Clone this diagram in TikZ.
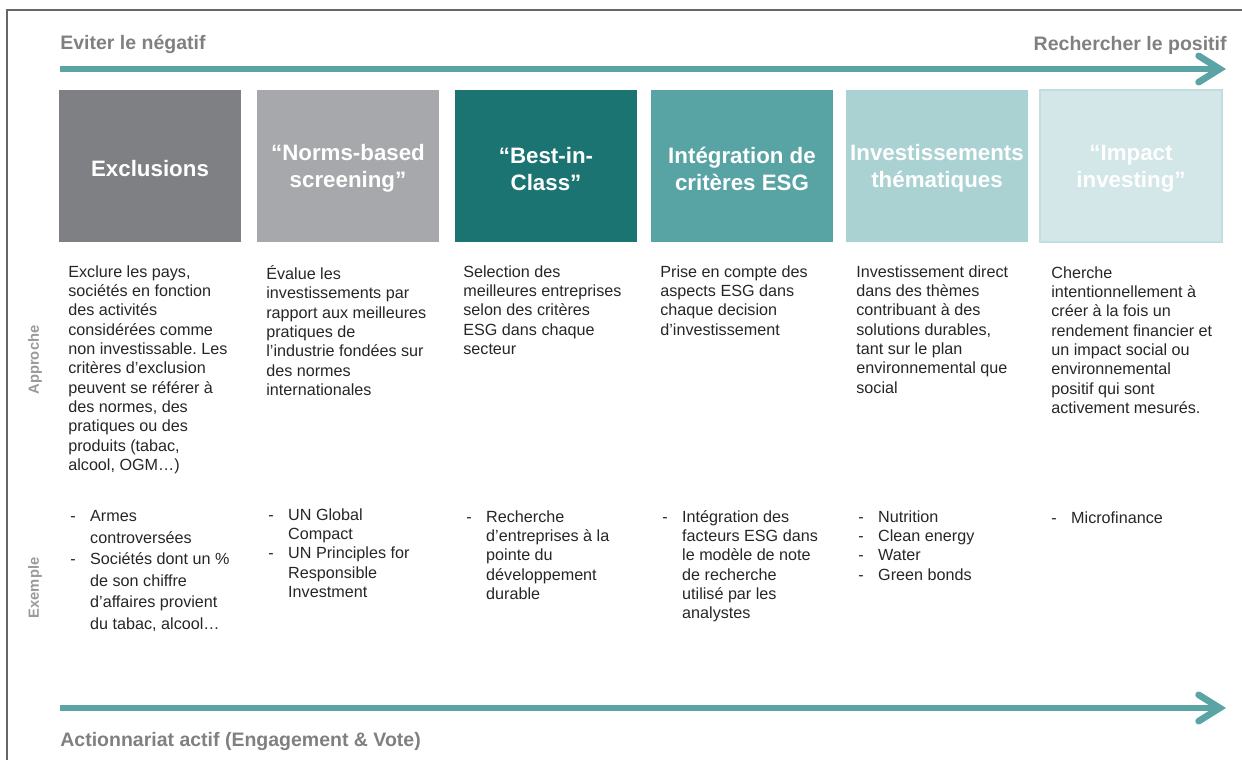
\documentclass[tikz,border=0pt]{standalone}
\usepackage{fontspec}
\setmainfont{Liberation Sans}
\usepackage{xcolor}
\usetikzlibrary{arrows.meta,positioning}

\definecolor{exclgray}{HTML}{7F8084}
\definecolor{normgray}{HTML}{A7A8AB}
\definecolor{bestteal}{HTML}{1B7471}
\definecolor{integteal}{HTML}{58A3A4}
\definecolor{themteal}{HTML}{AAD2D3}
\definecolor{impactteal}{HTML}{D3E6E8}
\definecolor{impactedge}{HTML}{C3DEE0}
\definecolor{arrowteal}{HTML}{5BA4A6}
\definecolor{headgray}{HTML}{808080}
\definecolor{sidegray}{HTML}{9A9A9A}
\definecolor{bodytext}{HTML}{262626}

\newcommand{\dashitem}{\makebox[11.3pt][l]{-}}
\newcommand{\contline}{\hspace*{11.3pt}}
\frenchspacing

\begin{document}
\begin{tikzpicture}[x=0.02cm,y=-0.02cm,
  box/.style={minimum width=3.64cm,minimum height=3.04cm,inner sep=0pt},
  title/.style={inner sep=0pt,text=white,align=center,
    font=\fontsize{12.7}{15.3}\selectfont\bfseries},
  approach/.style={anchor=north west,inner sep=0pt,align=left,text=bodytext,
    font=\fontsize{9.2}{11}\selectfont},
  sample/.style={approach},
  head/.style={inner sep=0pt,text=headgray,font=\fontsize{11.1}{13}\selectfont\bfseries},
  side/.style={inner sep=0pt,rotate=90,text=sidegray,font=\fontsize{8.4}{9}\selectfont\bfseries},
  flow/.style={arrowteal,line width=3.8pt,
    -{Straight Barb[length=12pt,width=15pt,line cap=round]}}]
\useasboundingbox (0,0) rectangle (1242,760);

% Frame
\draw[gray!80!black,line width=0.6pt] (7,760) -- (7,10) -- (1242,10);

% Top arrow
\node[head,anchor=west] (negatif) at (60,44) {Eviter le négatif};
\node[head,anchor=east] (positif) at (1227,45) {Rechercher le positif};
\coordinate (topstart) at (60,69);
\coordinate (topend) at (1226,69);
\draw[flow] (topstart) -- (topend);

% Approaches
\node[box,fill=exclgray] (excl) at (150,166) {};
\node[box,fill=normgray] (norms) at (348,166) {};
\node[box,fill=bestteal] (best) at (546,166) {};
\node[box,fill=integteal] (integ) at (742,166) {};
\node[box,fill=themteal] (them) at (937,166) {};
\node[box,fill=impactteal,draw=impactedge,line width=0.8pt] (impact) at (1131,166) {};

\node[title] at ([yshift=-1.5pt]excl.center) {Exclusions};
\node[title] at ([yshift=-1.5pt]norms.center) {“Norms-based\\screening”};
\node[title] at ([yshift=-1.5pt]best.center) {“Best-in-\\Class”};
\node[title] at ([yshift=-1.5pt]integ.center) {Intégration de\\critères ESG};
\node[title] at ([yshift=-1.5pt]them.center) {Investissements\\thématiques};
\node[title] at ([yshift=-1.5pt]impact.center) {“Impact\\investing”};

% Row labels
\node[side] (approche) at (35,360) {Approche};
\node[side] (exemple) at (35,588) {Exemple};

% Approche texts
\node[approach] (exclappr) at (68,265) {Exclure les pays,\\sociétés en fonction\\des activités\\considérées comme\\non investissable. Les\\critères d'exclusion\\peuvent se référer à\\des normes, des\\pratiques ou des\\produits (tabac,\\alcool, OGM…)};
\node[approach] (normsappr) at (266,265) {Évalue les\\investissements par\\rapport aux meilleures\\pratiques de\\l’industrie fondées sur\\des normes\\internationales};
\node[approach] (bestappr) at (463,265) {Selection des\\meilleures entreprises\\selon des critères\\ESG dans chaque\\secteur};
\node[approach] (integappr) at (660,265) {Prise en compte des\\aspects ESG dans\\chaque decision\\d’investissement};
\node[approach] (themappr) at (856,265) {Investissement direct\\dans des thèmes\\contribuant à des\\solutions durables,\\tant sur le plan\\environnemental que\\social};
\node[approach] (impactappr) at (1051,266) {Cherche\\intentionnellement à\\créer à la fois un\\rendement financier et\\un impact social ou\\environnemental\\positif qui sont\\activement mesurés.};

% Exemple texts
\node[sample,font=\fontsize{9.2}{12.3}\selectfont] (exclex) at (70,510) {\dashitem Armes\\\contline controversées\\\dashitem Sociétés dont un \%\\\contline de son chiffre\\\contline d’affaires provient\\\contline du tabac, alcool…};
\node[sample] (normsex) at (268,508) {\dashitem UN Global\\\contline Compact\\\dashitem UN Principles for\\\contline Responsible\\\contline Investment};
\node[sample] (bestex) at (466,510) {\dashitem Recherche\\\contline d’entreprises à la\\\contline pointe du\\\contline développement\\\contline durable};
\node[sample] (integex) at (662,510) {\dashitem Intégration des\\\contline facteurs ESG dans\\\contline le modèle de note\\\contline de recherche\\\contline utilisé par les\\\contline analystes};
\node[sample] (themex) at (858,510) {\dashitem Nutrition\\\dashitem Clean energy\\\dashitem Water\\\dashitem Green bonds};
\node[sample] (impactex) at (1051,511) {\dashitem Microfinance};

% Bottom arrow
\coordinate (botstart) at (60,708);
\coordinate (botend) at (1226,708);
\draw[flow] (botstart) -- (botend);
\node[head,anchor=west] (actionnariat) at (60,741) {Actionnariat actif (Engagement \& Vote)};
\end{tikzpicture}
\end{document}
